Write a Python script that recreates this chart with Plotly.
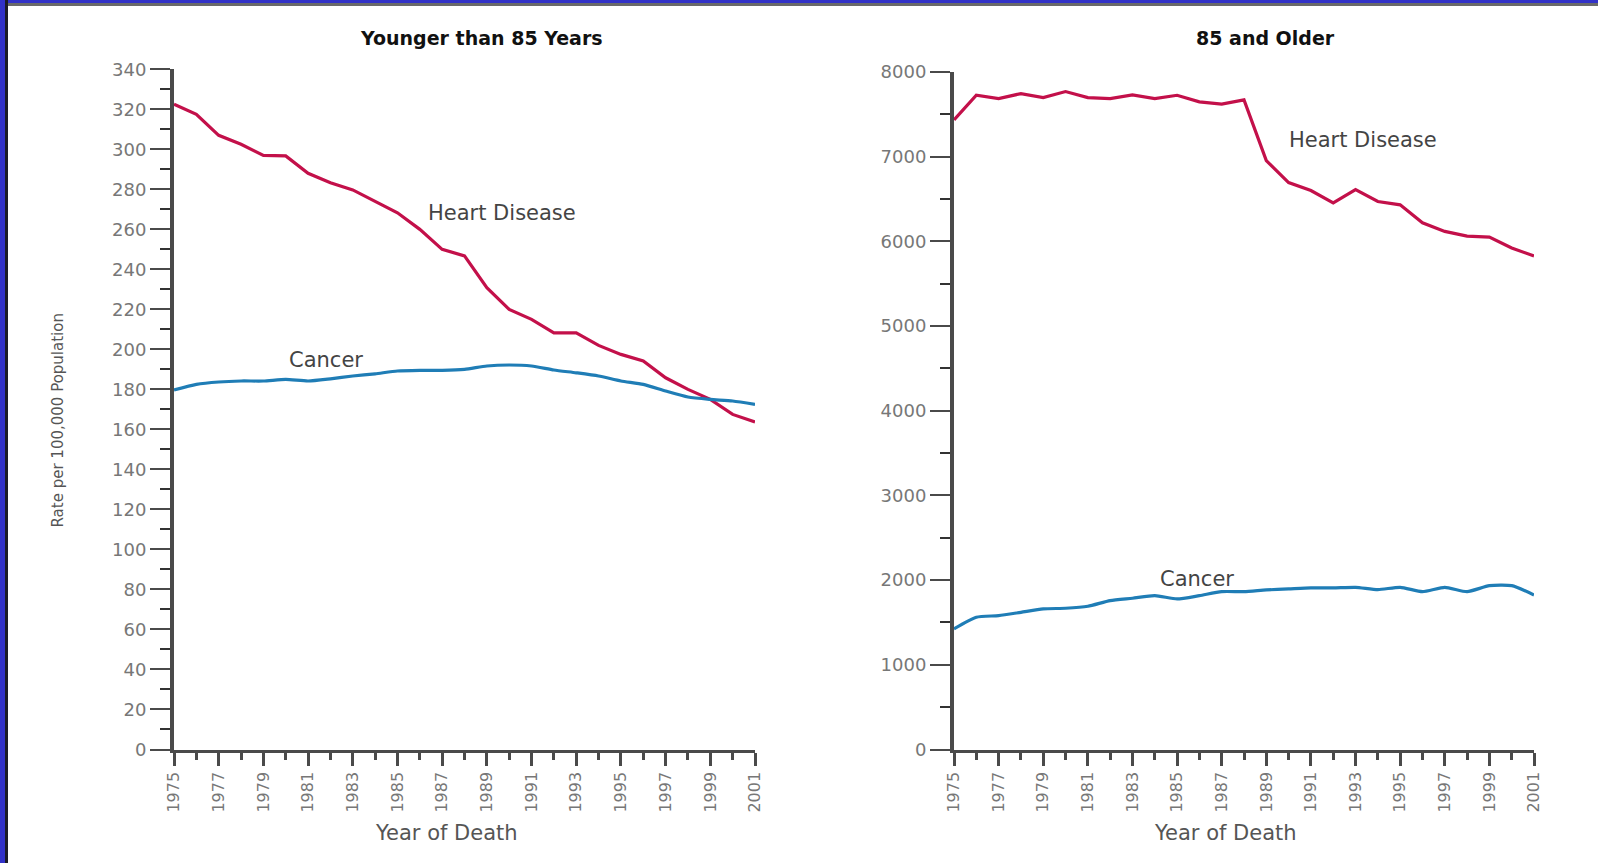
import plotly.graph_objects as go

years = list(range(1975, 2002))

heart_young = [322.5, 317.5, 307, 302.5, 297, 296.7, 288, 283.3, 279.7, 274.2, 268.3, 260, 250,
               246.7, 230.8, 220, 215, 208.3, 208.3, 202, 197.5, 194.2, 185.8, 180, 175, 167.5, 163.7]
cancer_young = [179.7, 182.5, 183.7, 184.2, 184.2, 185, 184.2, 185.3, 186.7, 187.8, 189.2, 189.5, 189.5,
                190, 191.7, 192.2, 191.7, 189.7, 188.3, 186.7, 184.2, 182.5, 179.2, 176.2, 175, 174.2, 172.5]

heart_old = [7435, 7725, 7686, 7745, 7698, 7769, 7698, 7686, 7729, 7686, 7725, 7647, 7620, 7671,
             6953, 6694, 6600, 6455, 6612, 6471, 6431, 6220, 6118, 6063, 6051, 5922, 5827]
cancer_old = [1424, 1561, 1581, 1620, 1660, 1668, 1691, 1758, 1786, 1817, 1778, 1817, 1864, 1864,
              1884, 1896, 1908, 1908, 1915, 1888, 1915, 1864, 1915, 1864, 1935, 1935, 1825]

x_tick_vals = list(range(1975, 2002, 2))
x_tick_labels = [str(v) for v in x_tick_vals]
y_ticks_young = list(range(0, 341, 20))
y_ticks_old = list(range(0, 8001, 1000))

panel_titles = ["Younger than 85 Years", "85 and Older"]
x_title = "Year of Death"
y_title = "Rate per 100,000 Population"
series_names = ["Heart Disease", "Cancer"]

HEART = "#c3104a"
CANCER = "#1f7db6"
AXIS = "#4a4a4a"
TICKFONT = dict(family="DejaVu Sans", size=18, color="#777777")
XTICKFONT = dict(family="DejaVu Sans", size=16, color="#777777")
LABELFONT = dict(family="DejaVu Sans", size=21, color="#444444")

# figure sits 8px in from the top-left corner of the 1598x863 page
OFF = 8
W, H = 1598 - 2 * OFF, 863 - 2 * OFF


def px(x):
    return (x - OFF) / W


def py(y):
    return 1 - (y - OFF) / H


fig = go.Figure()
fig.add_trace(go.Scatter(x=years, y=heart_young, mode="lines", line=dict(color=HEART, width=3.2),
                         xaxis="x", yaxis="y", cliponaxis=False, name=series_names[0]))
fig.add_trace(go.Scatter(x=years, y=cancer_young, mode="lines",
                         line=dict(color=CANCER, width=3.2, shape="spline", smoothing=0.6),
                         xaxis="x", yaxis="y", cliponaxis=False, name=series_names[1]))
fig.add_trace(go.Scatter(x=years, y=heart_old, mode="lines", line=dict(color=HEART, width=3.2),
                         xaxis="x2", yaxis="y2", cliponaxis=False, name=series_names[0]))
fig.add_trace(go.Scatter(x=years, y=cancer_old, mode="lines",
                         line=dict(color=CANCER, width=3.2, shape="spline", smoothing=0.6),
                         xaxis="x2", yaxis="y2", cliponaxis=False, name=series_names[1]))


def xaxis_cfg(domain, anchor):
    return dict(domain=domain, anchor=anchor, range=[1975, 2001], showgrid=False, zeroline=False,
                showline=True, linecolor=AXIS, linewidth=3, ticks="outside", ticklen=13,
                tickwidth=3, tickcolor=AXIS, tickvals=x_tick_vals, ticktext=x_tick_labels,
                tickangle=-90, tickfont=XTICKFONT,
                minor=dict(tickmode="linear", tick0=1975, dtick=1, ticks="outside", ticklen=7,
                           tickwidth=3, tickcolor=AXIS))


def yaxis_cfg(domain, anchor, rng, tickvals, minor_dtick):
    return dict(domain=domain, anchor=anchor, range=rng, showgrid=False, zeroline=False,
                showline=True, linecolor=AXIS, linewidth=4, ticks="outside", ticklen=20,
                tickwidth=2, tickcolor=AXIS, tickvals=tickvals,
                ticktext=[str(v) for v in tickvals], tickfont=TICKFONT,
                minor=dict(tickmode="linear", tick0=0, dtick=minor_dtick, ticks="outside",
                           ticklen=10, tickwidth=2, tickcolor="#333333"))


fig.update_layout(
    width=W, height=H,
    margin=dict(l=0, r=0, t=0, b=0, autoexpand=False),
    paper_bgcolor="white", plot_bgcolor="white",
    showlegend=False,
    xaxis=xaxis_cfg([px(174), px(755)], "y"),
    yaxis=yaxis_cfg([py(749.5), py(69.3)], "x", [0, 340], y_ticks_young, 10),
    xaxis2=xaxis_cfg([px(954), px(1534)], "y2"),
    yaxis2=yaxis_cfg([py(749.5), py(72)], "x2", [0, 8000], y_ticks_old, 500),
)

TITLEFONT = dict(family="DejaVu Sans", size=19, color="#111111")
AXTITLEFONT = dict(family="DejaVu Sans", size=21, color="#555555")
ann = []
ann.append(dict(text="<b>" + panel_titles[0] + "</b>", x=px(481), y=py(38), font=TITLEFONT))
ann.append(dict(text="<b>" + panel_titles[1] + "</b>", x=px(1265), y=py(38), font=TITLEFONT))
ann.append(dict(text=x_title, x=px(446), y=py(833), font=AXTITLEFONT))
ann.append(dict(text=x_title, x=px(1225), y=py(833), font=AXTITLEFONT))
ann.append(dict(text=y_title, x=px(57.5), y=py(421), textangle=-90,
                font=dict(family="DejaVu Sans", size=15, color="#555555")))
for a in ann:
    a.update(xref="paper", yref="paper", showarrow=False, xanchor="center", yanchor="middle")

lab = [
    dict(text=series_names[0], x=1989.67, y=268.3, xref="x", yref="y"),
    dict(text=series_names[1], x=1981.78, y=194.6, xref="x", yref="y"),
    dict(text=series_names[0], x=1993.32, y=7193, xref="x2", yref="y2"),
    dict(text=series_names[1], x=1985.9, y=2013, xref="x2", yref="y2"),
]
for a in lab:
    a.update(showarrow=False, xanchor="center", yanchor="middle", font=LABELFONT)
fig.update_layout(annotations=ann + lab)

# page frame: blue band + dark rule on the left, blue band + grey rule on top
post = (
    "var d=document.documentElement,b=document.body;"
    "d.style.margin='0';d.style.padding='0';d.style.height='100%';d.style.background='white';"
    "b.style.margin='0';b.style.padding='8px 0 0 8px';b.style.boxSizing='border-box';"
    "b.style.height='100%';"
    "b.style.background='linear-gradient(to right,#3232c8 0,#3232c8 5px,#1c1c28 5px,#1c1c28 8px,rgba(0,0,0,0) 8px),"
    "linear-gradient(to bottom,#3232c8 0,#3232c8 3px,#6a6a6a 3px,#6a6a6a 6px,rgba(0,0,0,0) 6px),white';"
)
fig.write_html("out.html", post_script=post, config={"displayModeBar": False})
